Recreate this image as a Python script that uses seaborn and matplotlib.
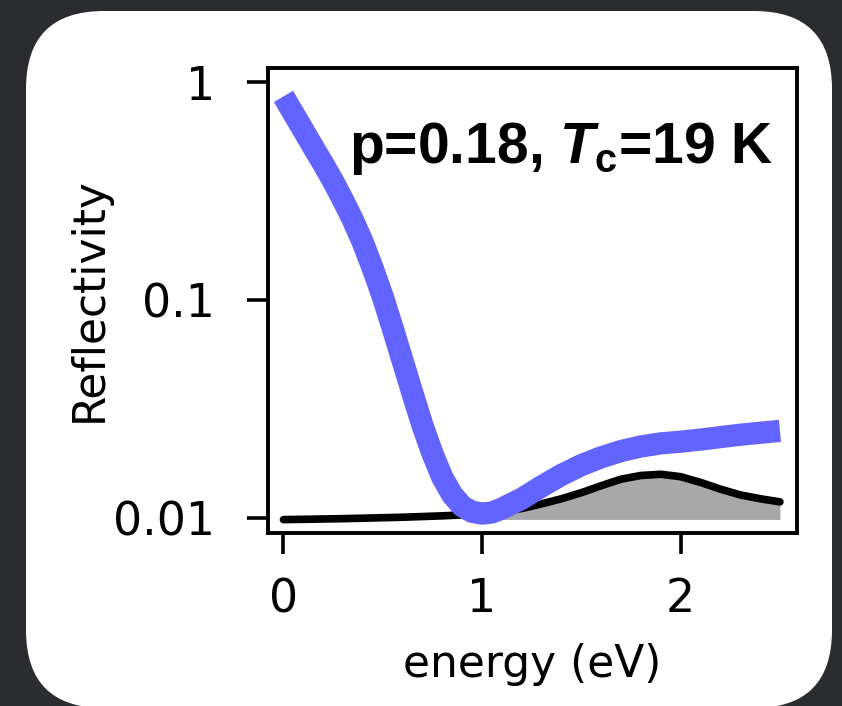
import matplotlib
matplotlib.use("Agg")
import matplotlib.pyplot as plt
import seaborn as sns
import numpy as np
from matplotlib.patches import FancyBboxPatch
from matplotlib.transforms import IdentityTransform
from matplotlib.ticker import FixedLocator, FixedFormatter, NullLocator

# ---- data ----
energy_data = [0.00, 0.05, 0.10, 0.15, 0.20, 0.25, 0.30, 0.35, 0.40, 0.45, 0.50,
               0.55, 0.60, 0.65, 0.70, 0.75, 0.80, 0.85, 0.90, 0.95, 1.00, 1.05,
               1.10, 1.20, 1.30, 1.40, 1.50, 1.60, 1.70, 1.80, 1.90, 2.00, 2.10,
               2.20, 2.30, 2.40, 2.50]
refl_data = [0.859, 0.718, 0.601, 0.502, 0.421, 0.350, 0.287, 0.232, 0.183, 0.139, 0.1033,
             0.0740, 0.0524, 0.0371, 0.0265, 0.0197, 0.01528, 0.01271, 0.01127, 0.01062, 0.01042,
             0.01055, 0.0110, 0.0122, 0.0139, 0.0157, 0.0174, 0.0189, 0.0202, 0.0212, 0.0219,
             0.0223, 0.0228, 0.0234, 0.0240, 0.0245, 0.0250]

energy_model = [0.0, 0.3, 0.6, 0.8, 0.9, 1.0, 1.1, 1.2, 1.3, 1.4, 1.5, 1.6, 1.7,
                1.8, 1.9, 2.0, 2.1, 2.2, 2.3, 2.4, 2.5]
refl_model = [0.00978, 0.00988, 0.01003, 0.01018, 0.01028, 0.0104, 0.01065, 0.0110,
              0.01155, 0.0122, 0.0130, 0.0140, 0.0150, 0.0156, 0.0158, 0.0154, 0.0145,
              0.0135, 0.0127, 0.0122, 0.0118]

fill_start = 0.9
fill_base = 0.0098

x_ticks = [0, 1, 2]
x_ticklabels = ["0", "1", "2"]
y_ticks = [0.01, 0.1, 1]
y_ticklabels = ["0.01", "0.1", "1"]

annotation = r"p=0.18, $T_{\mathrm{c}}$=19 K"

# ---- style ----
sns.set_style("ticks")
plt.rcParams["font.family"] = ["DejaVu Sans"]
plt.rcParams["text.color"] = "black"
plt.rcParams["axes.labelcolor"] = "black"
plt.rcParams["xtick.color"] = "black"
plt.rcParams["ytick.color"] = "black"
plt.rcParams["mathtext.fontset"] = "custom"
plt.rcParams["mathtext.it"] = "Liberation Sans:italic:bold"
plt.rcParams["mathtext.rm"] = "Liberation Sans:bold"
plt.rcParams["mathtext.bf"] = "Liberation Sans:bold"

fig = plt.figure(figsize=(8.42, 7.06), dpi=100)
fig.patch.set_facecolor("#2a2c2f")

panel = FancyBboxPatch((26, -2), 806, 697,
                       boxstyle="round,pad=0,rounding_size=78",
                       transform=IdentityTransform(),
                       facecolor="white", edgecolor="none", zorder=0)
fig.add_artist(panel)

ax = fig.add_axes([268 / 842, 1 - 533 / 706, 529 / 842, 465 / 706])
ax.set_facecolor("white")
ax.set_zorder(2)

sns.lineplot(x=energy_model, y=refl_model, ax=ax, color="black", linewidth=5.5,
             sort=False, zorder=3)
em = np.array(energy_model)
rm = np.array(refl_model)
mask = em >= fill_start
ax.fill_between(em[mask], fill_base, rm[mask], color="#a8a8a8", lw=0, zorder=2)
sns.lineplot(x=energy_data, y=refl_data, ax=ax, color="#6363FF", linewidth=16,
             sort=False, zorder=4, solid_capstyle="butt", solid_joinstyle="round")

ax.set_yscale("log")
ax.set_xlim(-0.078, 2.586)
ax.set_ylim(0.00849, 1.16)

ax.xaxis.set_major_locator(FixedLocator(x_ticks))
ax.xaxis.set_major_formatter(FixedFormatter(x_ticklabels))
ax.yaxis.set_major_locator(FixedLocator(y_ticks))
ax.yaxis.set_major_formatter(FixedFormatter(y_ticklabels))
ax.yaxis.set_minor_locator(NullLocator())
ax.xaxis.set_minor_locator(NullLocator())

for s in ax.spines.values():
    s.set_linewidth(2.8)
    s.set_color("black")

ax.tick_params(axis="both", direction="out", length=15, width=2.6,
               labelsize=33, colors="black")
ax.tick_params(axis="y", pad=23)
ax.tick_params(axis="x", pad=17)

ax.set_xlabel("energy (eV)", fontsize=31.6, color="black")
ax.xaxis.set_label_coords(0.5, -0.3097)
ax.xaxis.label.set_va("baseline")

ax.set_ylabel("Reflectivity", fontsize=31.6, color="black")
ax.yaxis.set_label_coords(-0.3374, 0.501)
ax.yaxis.label.set_va("center")
ax.yaxis.label.set_ha("center")

ax.text(0.9546, 0.796, annotation, transform=ax.transAxes, ha="right",
        va="baseline", fontsize=41, fontweight="bold", color="black",
        family="Liberation Sans", zorder=6)

fig.savefig("out.png", dpi=100, facecolor=fig.get_facecolor())
